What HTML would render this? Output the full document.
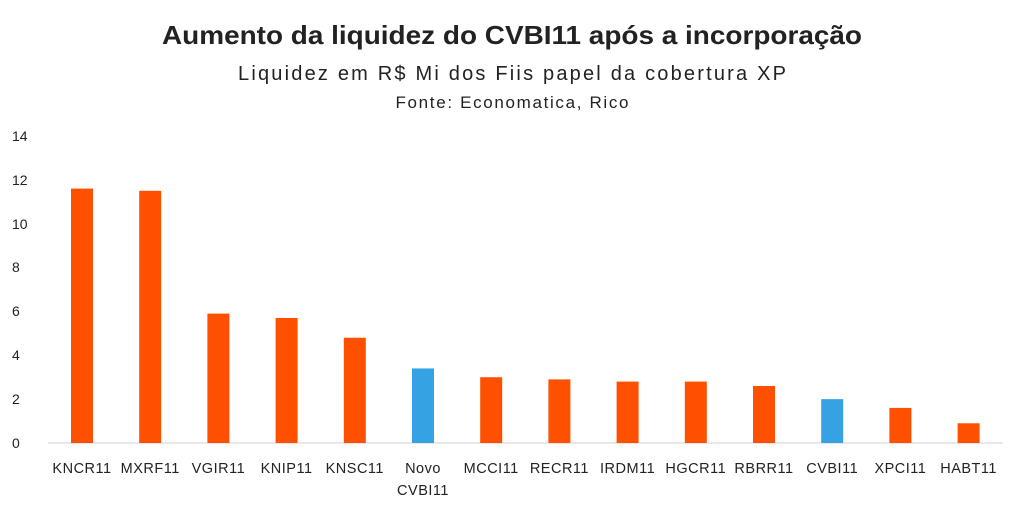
<!DOCTYPE html>
<html><head><meta charset="utf-8"><style>
html,body{margin:0;padding:0;background:#fff;width:1024px;height:511px;overflow:hidden}
svg text{font-family:"Liberation Sans",sans-serif;fill:#222}
</style></head><body>
<svg width="1024" height="511" xmlns="http://www.w3.org/2000/svg">
<text x="512" y="44" text-anchor="middle" font-size="26" font-weight="bold" fill="#111" textLength="700" lengthAdjust="spacingAndGlyphs">Aumento da liquidez do CVBI11 após a incorporação</text>
<text x="512" y="80" text-anchor="middle" font-size="20" fill="#333" textLength="548" lengthAdjust="spacing">Liquidez em R$ Mi dos Fiis papel da cobertura XP</text>
<text x="512" y="108" text-anchor="middle" font-size="17" fill="#333" textLength="233" lengthAdjust="spacing">Fonte: Economatica, Rico</text>
<g font-size="14" text-anchor="start">
<text x="12" y="448">0</text><text x="12" y="404">2</text><text x="12" y="360">4</text><text x="12" y="316">6</text><text x="12" y="272">8</text><text x="12" y="229">10</text><text x="12" y="185">12</text><text x="12" y="141">14</text>
</g>
<line x1="48" y1="443" x2="1003" y2="443" stroke="#d0d0d0" stroke-width="1"/>
<g id="bars"></g>
<g font-size="14.5" text-anchor="middle" id="labels"></g>
<script>
var d=[["KNCR11",11.6,0],["MXRF11",11.5,0],["VGIR11",5.9,0],["KNIP11",5.7,0],["KNSC11",4.8,0],["Novo|CVBI11",3.4,1],["MCCI11",3.0,0],["RECR11",2.9,0],["IRDM11",2.8,0],["HGCR11",2.8,0],["RBRR11",2.6,0],["CVBI11",2.0,1],["XPCI11",1.6,0],["HABT11",0.9,0]];
var ns="http://www.w3.org/2000/svg",b=document.getElementById("bars"),l=document.getElementById("labels");
d.forEach(function(e,i){var cx=82+i*68.2,h=e[1]*21.93;
var r=document.createElementNS(ns,"rect");r.setAttribute("x",cx-11);r.setAttribute("y",443-h);r.setAttribute("width",22);r.setAttribute("height",h);r.setAttribute("fill",e[2]?"#35A3E3":"#FF5000");b.appendChild(r);
e[0].split("|").forEach(function(s,j){var t=document.createElementNS(ns,"text");t.setAttribute("x",cx);t.setAttribute("y",473+j*22);t.setAttribute("letter-spacing","0.5");t.textContent=s;l.appendChild(t);});});
</script>
</svg>
</body></html>
